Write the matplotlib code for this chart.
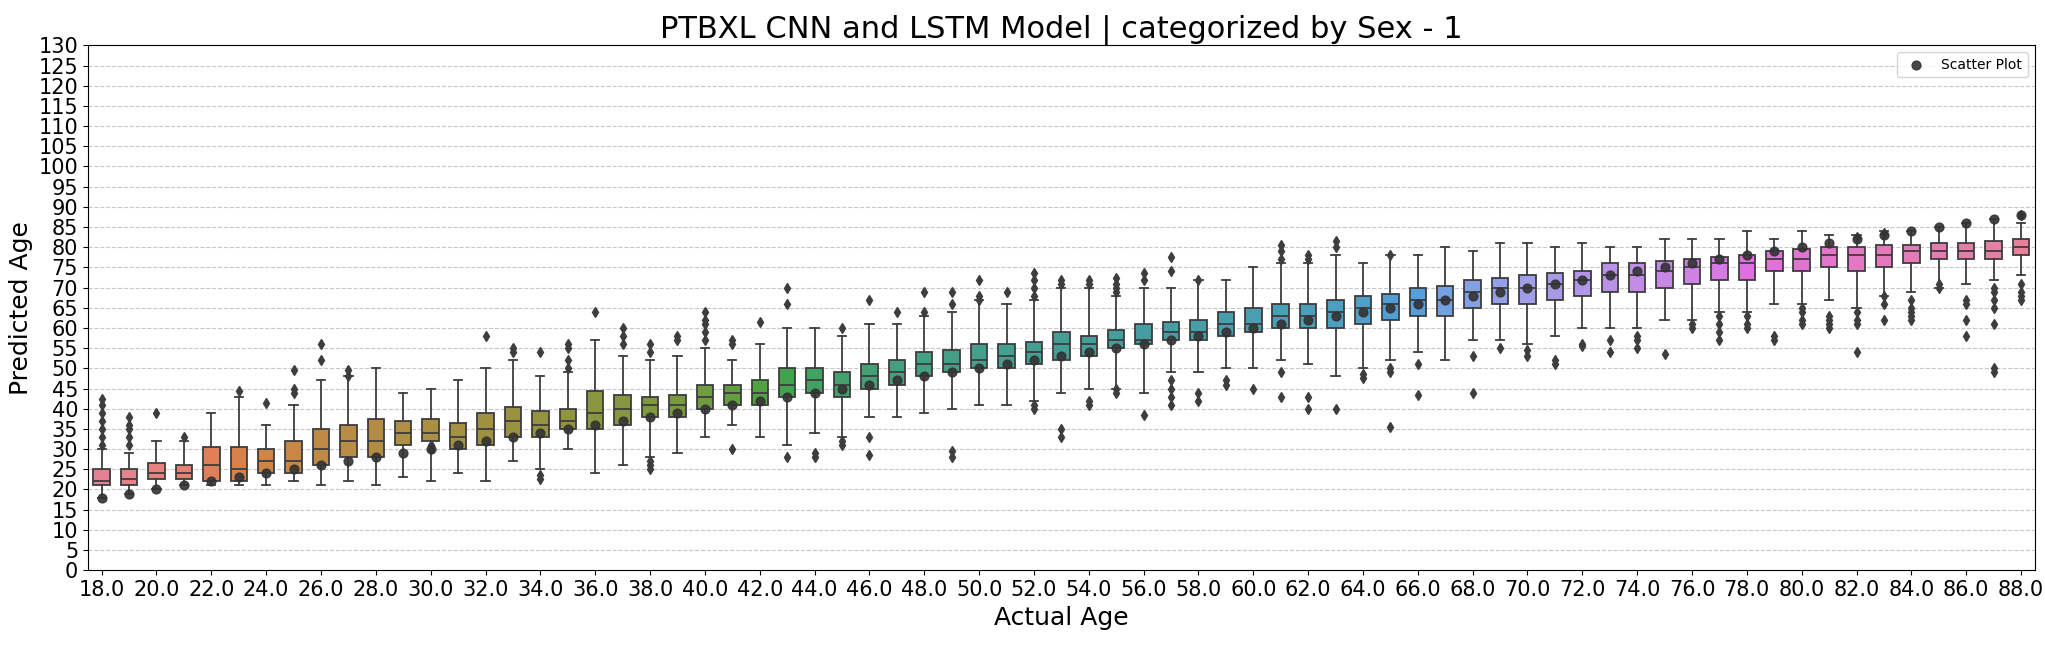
import matplotlib
matplotlib.use("Agg")
import matplotlib.pyplot as plt
import seaborn as sns

# actual ages (categories)
ages = list(range(18, 89))

# box stats: median, q1, q3, lower whisker, upper whisker
med = [22,22.5,24,24,26,25,27,27,30,32,32,34,34,33,35,37,36,37,39,40,41,41,43,44,44,46,47,46,48,49,
       51,51,52,53,54,56,56,57,57,59,59,61,61,63,63,64,65,66,67,67,69,70,70,71,72,73,73,74,75,76,
       76,77,77,78,78,78,79,79,79,79,80]
q1 = [21,21,22.5,22.5,22,22,24,24,26,28,28,31,32,30,31,33,33,35,35,36,38,38,40,41,41,43,44,43,45,46,
      48,49,50,50,51,52,53,55,56,57,57,58,59,60,60,60,61,62,63,63,65,66,66,67,68,69,69,70,71,72,
      72,74,74,75,74,75,76,77,77,77,78]
q3 = [25,25,26.5,26,30.5,30.5,30,32,35,36,37.5,37,37.5,36.5,39,40.5,39.5,40,44.5,43.5,43,43.5,46,46,47,50,50,49,51,52,
      54,54.5,56,56,56.5,59,58,59.5,61,61.5,62,64,65,66,66,67,68,68.5,70,70.5,72,72.5,73,73.5,74,76,76,76.5,77,77.5,
      78,79,79.5,80,80,80.5,80.5,81,81,81.5,82]
lo = [18,19,20,21,21,21,21,22,21,22,21,23,22,24,22,27,25,30,24,26,28,29,33,36,33,31,34,33,38,38,
      39,40,41,41,42,44,45,45,44,49,49,50,50,52,51,48,50,52,54,52,57,57,56,58,60,60,60,62,62,64,
      64,66,66,67,65,68,69,70,71,72,73]
hi = [30,29,32,32,39,43,36,41,47,48,50,44,45,47,50,52,48,49,57,53,52,53,55,52,56,60,60,58,61,61,
      63,64,67,66,67,70,70,68,70,70,72,72,75,76,76,78,76,78,78,80,79,81,81,80,81,80,80,82,82,82,
      84,82,84,83,83,84,84,85,86,87,86]

# approximate outliers {age: [values]}
fliers = {
    18: [31, 33, 35, 37, 39, 41, 42.5], 19: [31, 33, 35, 36, 38], 20: [39], 21: [33],
    23: [44.5], 24: [41.5], 25: [44, 45, 49.5], 26: [52, 56], 27: [48, 49.5],
    30: [30, 31], 32: [58], 33: [54, 55], 34: [22.5, 23.5, 54], 35: [50, 52, 55, 56],
    36: [64], 37: [56, 58, 60], 38: [25, 26, 27, 54, 56], 39: [57, 58], 40: [57, 59, 61, 62, 64],
    41: [30, 56, 57], 42: [61.5], 43: [28, 66, 70], 44: [28, 29], 45: [31, 32, 60],
    46: [28.5, 33, 67], 47: [64], 48: [64, 69], 49: [28, 29.5, 66, 69], 50: [67, 68, 72],
    51: [69], 52: [40, 41, 68, 70, 72, 73.5], 53: [33, 35, 71, 72], 54: [41, 42, 71, 72],
    55: [44, 45, 69, 70, 71, 72.5], 56: [38.5, 72, 73.5], 57: [41, 43, 45, 47, 74, 77.5],
    58: [42, 44, 72], 59: [46, 47], 60: [45], 61: [43, 49, 77, 79, 80.5], 62: [40, 43, 77, 78],
    63: [40, 80, 81.5], 64: [47.5, 48.5], 65: [35.5, 49, 50, 78], 66: [43.5, 51],
    68: [44, 53], 69: [55], 70: [53, 54.5], 71: [51, 52], 72: [55.5, 56], 73: [54, 57],
    74: [55, 57, 58], 75: [53.5], 76: [60, 61], 77: [57, 59, 61, 63], 78: [60, 61, 63],
    79: [57, 58], 80: [61, 62, 64, 65], 81: [60, 61, 62, 63], 82: [54, 61, 62, 64, 82.5],
    83: [62, 66, 68, 83.5], 84: [62, 63, 64, 65, 67], 85: [70, 71], 86: [58, 62, 66, 67],
    87: [49, 50, 61, 65, 67, 69, 70], 88: [67, 68, 69, 71, 88],
}

stats = []
for i, a in enumerate(ages):
    stats.append({"med": med[i], "q1": q1[i], "q3": q3[i], "whislo": lo[i], "whishi": hi[i],
                  "fliers": fliers.get(a, [])})

colors = [sns.desaturate(c, 0.75) for c in sns.color_palette("husl", len(ages))]
gray = "#3d3d3d"

fig, ax = plt.subplots(figsize=(20.45, 6.48), dpi=100)
positions = list(range(len(ages)))
bp = ax.bxp(stats, positions=positions, widths=0.6, patch_artist=True,
            boxprops=dict(edgecolor=gray, linewidth=1.3),
            medianprops=dict(color=gray, linewidth=1.3),
            whiskerprops=dict(color=gray, linewidth=1.3),
            capprops=dict(color=gray, linewidth=1.3),
            flierprops=dict(marker="d", markerfacecolor=gray, markeredgecolor=gray, markersize=5))
for patch, c in zip(bp["boxes"], colors):
    patch.set_facecolor(c)

ax.scatter(positions, ages, color="#333333", alpha=0.9, s=40, zorder=5, label="Scatter Plot")

ax.set_xlim(-0.5, len(ages) - 0.5)
ax.set_xticks(positions[::2])
ax.set_xticklabels([f"{a:.1f}" for a in ages[::2]], fontsize=15)
ax.set_ylim(0, 130)
ax.set_yticks(range(0, 131, 5))
ax.tick_params(axis="y", labelsize=15)
ax.grid(axis="y", linestyle="--", alpha=0.7)
ax.set_axisbelow(True)
ax.set_xlabel("Actual Age", fontsize=18)
ax.set_ylabel("Predicted Age", fontsize=18)
ax.set_title("PTBXL CNN and LSTM Model | categorized by Sex - 1", fontsize=22)
ax.legend(loc="upper right")
plt.subplots_adjust(left=0.043, right=0.995, top=0.93, bottom=0.12)
plt.savefig("out.png")
